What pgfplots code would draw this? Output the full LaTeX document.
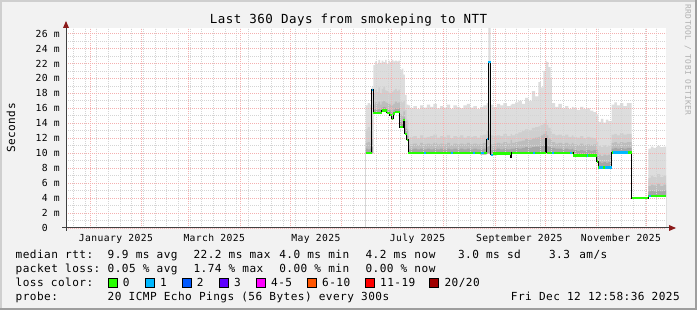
\documentclass[border=0pt]{standalone}
\usepackage{pgfplots}
\pgfplotsset{compat=1.18}
\usepackage{pgfplotstable}
\usepackage{fontspec}
\setmainfont{DejaVu Sans Mono}[LetterSpace=4]
\definecolor{bgcol}{HTML}{F2F2F2}
\definecolor{shadeA}{HTML}{CFCFCF}
\definecolor{shadeB}{HTML}{9E9E9E}
\definecolor{gridred}{HTML}{F4B0B0}
\definecolor{gridgray}{HTML}{D4D4D4}
\definecolor{axiscol}{HTML}{404040}
\definecolor{arrowred}{HTML}{8B1A1A}
\definecolor{sA}{HTML}{DDDDDD}
\definecolor{sB}{HTML}{CFCFCF}
\definecolor{sC}{HTML}{BDBDBD}
\definecolor{sD}{HTML}{A6A6A6}
\definecolor{lcA}{HTML}{26FF00}
\definecolor{lcB}{HTML}{00B8FF}
\definecolor{lcC}{HTML}{0059FF}
\definecolor{lcD}{HTML}{5E00FF}
\definecolor{lcE}{HTML}{FF00FF}
\definecolor{lcF}{HTML}{FF5500}
\definecolor{lcG}{HTML}{FF0000}
\definecolor{lcH}{HTML}{A00000}
\definecolor{wm}{HTML}{B0B0B0}
\newcommand{\fs}[1]{\fontsize{#1bp}{#1bp}\selectfont}

% smoke: day, lower bound, band levels (dark -> light), top
\pgfplotstableread{
d lo l1 l2 l3 top
165.3 9.9 10.6 11.4 13.2 16.4
166.5 9.9 10.5 11.5 13.5 16.7
167.8 9.9 10.6 11.3 13.0 16.5
168.9 9.9 10.8 12.0 14.5 18.8
169.9 15.3 15.8 16.5 18.0 21.8
171.0 15.3 15.9 16.8 18.5 22.3
172.0 15.3 15.8 16.6 18.2 22.0
173.0 15.3 15.9 16.9 18.8 22.5
174.0 15.3 15.8 16.5 18.0 22.1
174.9 15.6 16.1 16.9 18.6 22.4
176.0 15.6 16.2 17.0 18.9 22.2
177.0 15.6 16.1 16.8 18.4 22.5
177.9 15.3 15.9 16.7 18.3 22.0
179.0 15.3 15.8 16.6 18.1 22.4
179.9 15.0 15.7 16.5 18.0 22.2
180.9 14.5 15.4 16.4 18.2 22.5
181.9 15.2 15.8 16.6 18.4 22.3
182.9 15.4 16.0 16.9 18.6 22.4
184.0 15.4 15.9 16.7 18.3 22.3
185.0 15.4 16.0 16.8 18.5 22.4
185.9 13.4 14.2 15.2 17.0 21.1
186.9 13.4 14.0 15.0 16.8 21.3
187.9 14.3 14.8 15.6 17.0 20.5
188.9 12.5 13.3 14.3 15.8 17.8
189.9 11.7 12.3 13.2 14.5 16.5
190.9 9.9 10.5 11.1 12.0 16.4
192.0 9.9 10.5 11.2 12.2 16.0
194.0 9.9 10.6 11.3 12.3 16.3
196.0 9.9 10.5 11.1 12.0 15.9
198.0 9.9 10.6 11.4 12.4 16.4
200.0 9.9 10.5 11.2 12.1 16.1
202.0 9.9 10.6 11.3 12.2 16.5
204.0 9.9 10.5 11.2 12.3 16.2
206.0 9.9 10.6 11.4 12.5 16.6
208.0 9.9 10.5 11.2 12.1 16.0
210.0 9.9 10.6 11.3 12.3 16.3
212.0 9.9 10.5 11.2 12.2 16.1
214.0 9.9 10.6 11.4 12.4 16.5
216.0 9.9 10.5 11.1 12.0 15.9
218.0 9.9 10.6 11.3 12.3 16.4
220.0 9.9 10.5 11.2 12.2 16.2
222.0 9.9 10.6 11.3 12.4 16.0
224.0 9.9 10.5 11.2 12.1 16.4
226.0 9.9 10.6 11.4 12.3 16.6
228.0 9.9 10.5 11.2 12.2 16.1
230.0 9.9 10.6 11.3 12.3 16.3
232.0 9.9 10.5 11.2 12.1 15.9
234.0 9.8 10.5 11.3 12.4 16.2
236.0 9.8 10.6 11.4 12.5 16.4
237.9 9.9 10.8 11.9 13.0 16.7
238.9 9.9 11.0 12.5 14.0 26.75
240.3 9.7 10.4 11.2 12.4 16.5
242.0 9.7 10.5 11.3 12.3 16.2
244.0 9.9 10.6 11.4 12.4 16.6
246.0 9.9 10.5 11.3 12.3 16.4
248.0 9.9 10.6 11.5 12.6 16.7
250.0 9.9 10.5 11.3 12.3 16.3
252.3 9.5 10.6 11.8 12.6 16.5
253.0 9.9 10.6 11.4 12.4 16.6
255.0 9.9 10.7 11.5 12.6 16.8
257.0 9.9 10.6 11.6 12.8 17.0
259.0 9.9 10.7 11.7 13.0 16.6
261.0 9.9 10.8 11.9 13.2 17.4
263.0 9.9 10.7 11.8 13.1 17.0
265.0 9.9 10.8 12.0 13.4 18.3
267.0 9.9 10.9 12.1 13.5 17.6
269.0 9.9 10.9 12.2 13.6 19.5
270.5 9.9 11.0 12.4 13.8 18.8
272.0 9.9 11.1 12.6 14.0 21.0
273.3 9.9 11.5 13.0 14.5 22.4
273.9 10.0 11.0 12.4 13.8 22.2
275.0 10.0 10.9 12.0 13.4 21.5
276.3 10.0 10.8 11.8 13.0 20.0
277.0 10.0 10.7 11.5 12.6 16.7
279.0 10.0 10.6 11.3 12.4 16.2
281.0 10.0 10.6 11.4 12.5 16.6
283.0 9.9 10.5 11.3 12.3 16.0
285.0 9.9 10.6 11.4 12.5 16.3
287.0 9.9 10.5 11.2 12.2 15.9
289.0 9.9 10.6 11.4 12.4 16.2
290.0 9.6 10.4 11.2 12.2 16.1
292.0 9.6 10.3 11.1 12.1 15.8
294.0 9.6 10.4 11.3 12.3 16.2
296.0 9.6 10.3 11.1 12.0 15.9
298.0 9.6 10.4 11.2 12.2 16.0
300.0 9.6 10.3 11.1 12.1 15.7
302.0 9.6 10.4 11.2 12.0 15.5
303.9 8.8 9.6 10.5 11.5 15.2
304.9 8.0 8.8 9.8 11.0 14.2
306.5 8.0 8.7 9.6 10.8 14.6
308.0 8.0 8.8 9.8 11.1 14.1
309.5 8.0 8.7 9.7 10.9 14.5
311.0 8.0 8.8 9.8 11.0 14.3
312.9 10.0 10.6 11.4 12.5 16.5
314.5 10.0 10.7 11.5 12.6 16.8
316.0 10.0 10.6 11.3 12.4 16.4
318.0 10.0 10.7 11.5 12.7 16.7
320.0 10.0 10.6 11.4 12.5 16.3
322.0 10.0 10.7 11.5 12.6 16.7
324.9 3.9 3.9 3.9 3.9 3.9
334.9 4.2 4.9 5.6 6.7 10.6
336.5 4.2 5.0 5.8 7.0 10.9
338.0 4.2 4.9 5.7 6.8 10.7
340.0 4.2 5.0 5.9 7.2 11.0
342.0 4.2 4.9 5.6 6.8 10.8
344.0 4.2 5.0 5.8 7.0 10.9
345.54 4.2 5.0 5.8 7.0 10.9
}\smoke

\pgfplotsset{commonax/.style={
  at={(66bp,82bp)}, anchor=south west,
  scale only axis, width=600bp, height=200bp,
  xmin=-14.46, xmax=345.54, ymin=0, ymax=26.75,
  unbounded coords=jump,
}}

\begin{document}
\begin{tikzpicture}
\fill[bgcol] (0,0) rectangle (697bp,310bp);
\fill[shadeA] (0,0) rectangle (2bp,310bp);
\fill[shadeA] (0,308bp) rectangle (697bp,310bp);
\fill[shadeB] (695bp,0) rectangle (697bp,310bp);
\fill[shadeB] (0,0) rectangle (697bp,2bp);

\begin{axis}[
  commonax,
  axis line style={draw=none},
  axis background/.style={fill=white},
  axis on top,
  major tick length=0pt, minor tick length=0pt,
  tick style={draw=none},
  xtick={0,31,59,90,120,151,181,212,243,273,304,334},
  xticklabels={},
  minor xtick={-10,-3,...,340},
  extra x ticks={15.5,74.5,135.5,196.5,257.5,318.5},
  extra x tick labels={January 2025,March 2025,May 2025,July 2025,September 2025,November 2025},
  extra x tick style={xmajorgrids=false, xminorgrids=false},
  xmajorgrids, xminorgrids, ymajorgrids, yminorgrids,
  ytick={0,2,...,26},
  yticklabels={0\phantom{ m},2 m,4 m,6 m,8 m,10 m,12 m,14 m,16 m,18 m,20 m,22 m,24 m,26 m},
  minor ytick={1,3,...,25},
  major grid style={draw=gridred, line width=0.8bp, dash pattern=on 1bp off 1bp},
  minor grid style={draw=gridgray, line width=0.8bp, dash pattern=on 1bp off 1bp},
  xticklabel style={font=\fs{9.7}, anchor=base, inner sep=0pt, yshift=-13.7bp},
  yticklabel style={font=\fs{9.7}, anchor=east, inner sep=0pt, xshift=-6bp},
]
% smoke (painted from light top down to white below the lower bound)
\addplot[const plot, fill=sA, draw=none] table[x=d, y=top] {\smoke} \closedcycle;
\addplot[const plot, fill=sB, draw=none] table[x=d, y=l3] {\smoke} \closedcycle;
\addplot[const plot, fill=sC, draw=none] table[x=d, y=l2] {\smoke} \closedcycle;
\addplot[const plot, fill=sD, draw=none] table[x=d, y=l1] {\smoke} \closedcycle;
\addplot[const plot, fill=white, draw=none] table[x=d, y=lo] {\smoke} \closedcycle;
\end{axis}

\begin{axis}[commonax, hide axis]
% median (black path)
\addplot[black, line width=0.9bp, mark=none] coordinates {
(165.3,10.0) (168.9,10.0) (168.9,18.5) (169.9,18.5) (169.9,15.4) (174.9,15.4)
(174.9,15.7) (177.9,15.7) (177.9,15.4) (179.9,15.4) (179.9,15.1) (180.9,15.1)
(180.9,14.6) (181.9,14.6) (181.9,15.3) (182.9,15.3) (182.9,15.5) (185.9,15.5)
(185.9,13.5) (187.9,13.5) (187.9,14.4) (188.9,14.4) (188.9,12.6) (189.9,12.6)
(189.9,11.8) (190.9,11.8) (190.9,10.0) (237.9,10.0) (237.9,11.9) (238.9,11.9)
(238.9,22.2) (240.3,22.2) (240.3,9.8) (242,9.8) (242,9.95) (252.3,9.95)
(252.3,9.5) (252.9,9.5) (252.9,10.05) (273.3,10.05) (273.3,12.0) (273.9,12.0)
(273.9,10.05) (290,10.05) (290,9.7) (303.9,9.7) (303.9,8.9) (304.9,8.9)
(304.9,8.1) (312.9,8.1) (312.9,10.1) (324.9,10.1) (324.9,4.0) (334.9,4.0)
(334.9,4.3) (345.54,4.3)};
% median, loss 0 (green)
\addplot[lcA, line width=2.3bp, mark=none] coordinates {
(165.3,10.0) (168.9,10.0) (168.9,nan)
(169.9,15.4) (174.9,15.4) (174.9,nan)
(174.9,15.7) (177.9,15.7) (177.9,nan)
(177.9,15.4) (179.9,15.4) (179.9,nan)
(179.9,15.1) (180.9,15.1) (180.9,nan)
(180.9,14.6) (181.9,14.6) (181.9,nan)
(181.9,15.3) (182.9,15.3) (182.9,nan)
(182.9,15.5) (185.9,15.5) (185.9,nan)
(185.9,13.5) (187.9,13.5) (187.9,nan)
(187.9,14.4) (188.9,14.4) (188.9,nan)
(188.9,12.6) (189.9,12.6) (189.9,nan)
(189.9,11.8) (190.9,11.8) (190.9,nan)
(190.9,10.0) (237.9,10.0) (237.9,nan)
(242,9.95) (252.3,9.95) (252.3,nan)
(252.9,10.05) (273.3,10.05) (273.3,nan)
(273.9,10.05) (290,10.05) (290,nan)
(290,9.7) (303.9,9.7) (303.9,nan)
(303.9,8.9) (304.9,8.9) (304.9,nan)
(304.9,8.1) (312.9,8.1) (312.9,nan)
(312.9,10.1) (324.9,10.1) (324.9,nan)
(324.9,4.0) (334.9,4.0) (334.9,nan)
(334.9,4.3) (345.54,4.3)};
% median, loss 1 (light blue)
\addplot[lcB, line width=2.3bp, mark=none] coordinates {
(168.9,18.5) (169.9,18.5) (169.9,nan)
(200.5,10.0) (201.5,10.0) (201.5,nan)
(216.5,10.0) (218.0,10.0) (218.0,nan)
(229.5,10.0) (231.0,10.0) (231.0,nan)
(234.5,10.0) (236.5,10.0) (236.5,nan)
(237.9,11.9) (238.9,11.9) (238.9,nan)
(238.9,22.2) (240.3,22.2) (240.3,nan)
(240.3,9.8) (242.0,9.8) (242.0,nan)
(266.0,10.05) (267.0,10.05) (267.0,nan)
(277.0,10.05) (278.2,10.05) (278.2,nan)
(288.0,10.05) (289.0,10.05) (289.0,nan)
(298.0,9.7) (299.0,9.7) (299.0,nan)
(305.5,8.1) (307.5,8.1) (307.5,nan)
(309.0,8.1) (312.9,8.1) (312.9,nan)
(314.0,10.1) (322.5,10.1) (322.5,nan)
(335.3,4.3) (336.5,4.3)};
\end{axis}

% axis lines and arrows
\draw[axiscol, line width=1bp] (62bp,82bp) -- (670bp,82bp);
\fill[arrowred] (676bp,82bp) -- (669bp,85bp) -- (669bp,79bp) -- cycle;
\draw[axiscol, line width=1bp] (66bp,79bp) -- (66bp,283bp);
\fill[arrowred] (66bp,289bp) -- (63bp,282bp) -- (69bp,282bp) -- cycle;

% title, unit, watermark
\node[anchor=base, inner sep=0pt, font=\fs{12.5}] at (348.5bp,286.7bp) {Last 360 Days from smokeping to NTT};
\node[rotate=90, inner sep=0pt, font=\fs{11.1}] at (11bp,182bp) {Seconds};
\node[rotate=-90, inner sep=0pt, font=\fs{7.9}, text=wm] at (688bp,250bp) {RRDTOOL / TOBI OETIKER};

% legend
\begin{scope}[every node/.style={anchor=base west, inner sep=0pt, font=\fs{11.1}}]
\node at (15.5bp,51.7bp) {median rtt:};
\node at (107.5bp,51.7bp) {9.9 ms avg};
\node at (193.3bp,51.7bp) {22.2 ms max};
\node at (279.1bp,51.7bp) {4.0 ms min};
\node at (365.3bp,51.7bp) {4.2 ms now};
\node at (457.8bp,51.7bp) {3.0 ms sd};
\node at (548.9bp,51.7bp) {3.3};
\node at (579.1bp,51.7bp) {am/s};
\node at (15.5bp,37.7bp) {packet loss:};
\node at (107.5bp,37.7bp) {0.05 \% avg};
\node at (193.3bp,37.7bp) {1.74 \% max};
\node at (279.1bp,37.7bp) {0.00 \% min};
\node at (365.3bp,37.7bp) {0.00 \% now};
\node at (15.5bp,23.5bp) {loss color:};
\node at (122.7bp,23.5bp) {0};
\node at (160bp,23.5bp) {1};
\node at (196.7bp,23.5bp) {2};
\node at (233.8bp,23.5bp) {3};
\node at (271bp,23.5bp) {4-5};
\node at (322bp,23.5bp) {6-10};
\node at (380bp,23.5bp) {11-19};
\node at (444.4bp,23.5bp) {20/20};
\node at (15.5bp,10bp) {probe:};
\node at (107.5bp,10bp) {20 ICMP Echo Pings (56 Bytes) every 300s};
\node[anchor=base east] at (680bp,10bp) {Fri Dec 12 12:58:36 2025};
\end{scope}
\foreach \bx/\col in {108/lcA,145/lcB,182/lcC,219/lcD,256.4/lcE,307.6/lcF,365.3/lcG,429.8/lcH}{
  \filldraw[fill=\col, draw=black, line width=0.8bp] (\bx bp,22.5bp) rectangle ++(9bp,9bp);
}
\end{tikzpicture}
\end{document}
